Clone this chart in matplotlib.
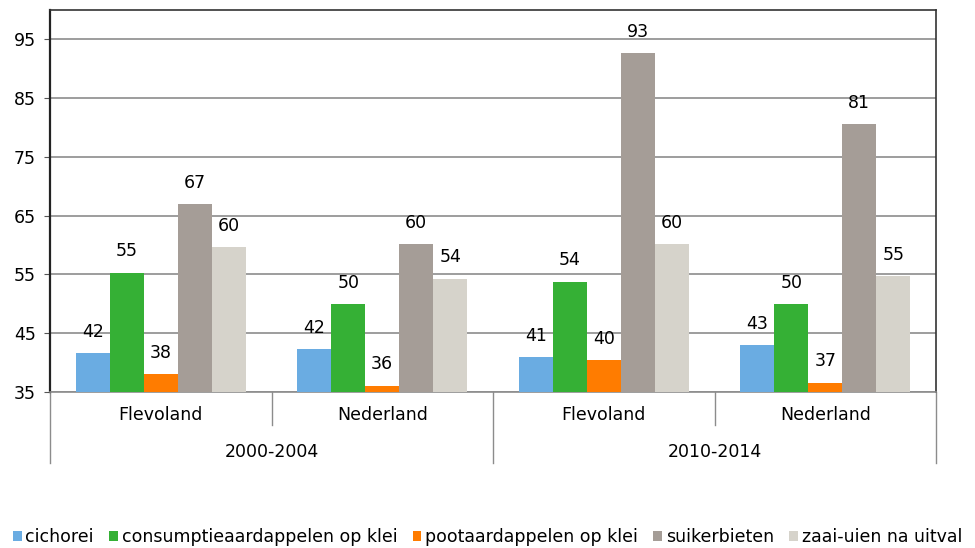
import matplotlib.pyplot as plt
import numpy as np

# categories
regions = ['Flevoland', 'Nederland', 'Flevoland', 'Nederland']
periods = ['2000-2004', '2010-2014']
crops = ['cichorei', 'consumptieaardappelen op klei', 'pootaardappelen op klei',
         'suikerbieten', 'zaai-uien na uitval']

# values per crop, one per region/period group
cichorei = [41.6, 42.3, 40.9, 43.0]
consumptie = [55.3, 50.0, 53.8, 50.0]
poot = [38.05, 36.1, 40.4, 36.6]
suikerbieten = [67.0, 60.1, 92.7, 80.6]
zaai_uien = [59.6, 54.3, 60.2, 54.7]
series = [cichorei, consumptie, poot, suikerbieten, zaai_uien]

colors = ['#6AACE2', '#35B035', '#FF7C00', '#A59D97', '#D6D3CB']

plt.rcParams['font.family'] = 'DejaVu Sans'
fs = 12.5

fig = plt.figure(figsize=(9.75, 5.48), dpi=100)
ax = fig.add_axes([50 / 975, 1 - 392 / 548, 886 / 975, 382 / 548])

x = np.arange(len(regions))
width = 0.1535
for i, (vals, col, name) in enumerate(zip(series, colors, crops)):
    pos = x + (i - 2) * width
    ax.bar(pos, np.array(vals) - 35, width, bottom=35, color=col, label=name, zorder=3)
    for p, v in zip(pos, vals):
        ax.text(p, v + 2.1, str(int(round(v))), ha='center', va='bottom', fontsize=fs)

ax.set_xlim(-0.5, 3.5)
ax.set_ylim(35, 100)
ax.set_yticks(range(35, 100, 10))
ax.tick_params(axis='y', labelsize=fs, length=4, pad=6, color='#555555')
ax.set_xticks([])
ax.yaxis.grid(True, color='#8C8C8C', linewidth=1.2, zorder=0)

ax.spines['left'].set_linewidth(1.6)
ax.spines['left'].set_color('#222222')
for s in ['top', 'right']:
    ax.spines[s].set_color('#333333')
    ax.spines[s].set_linewidth(1.2)
ax.spines['bottom'].set_color('#8C8C8C')
ax.spines['bottom'].set_linewidth(1.2)

# two-level category axis below the plot
trans = ax.get_xaxis_transform()
for b in [0.5, 2.5]:
    ax.plot([b, b], [0, -0.086], color='#8C8C8C', lw=1, transform=trans, clip_on=False)
for b in [-0.5, 1.5, 3.5]:
    ax.plot([b, b], [0, -0.186], color='#8C8C8C', lw=1, transform=trans, clip_on=False)
for xi, name in zip(x, regions):
    ax.text(xi, -0.06, name, ha='center', va='center', fontsize=fs, transform=trans)
for k, name in enumerate(periods):
    ax.text(2 * k + 0.5, -0.157, name, ha='center', va='center', fontsize=fs, transform=trans)

fig.legend(loc='center', bbox_to_anchor=(0.5, 1 - 537 / 548), ncol=5, frameon=False,
           fontsize=fs, handlelength=0.5, handleheight=0.5, handletextpad=0.2,
           columnspacing=0.9, borderaxespad=0)

fig.savefig('out.png', dpi=100)
